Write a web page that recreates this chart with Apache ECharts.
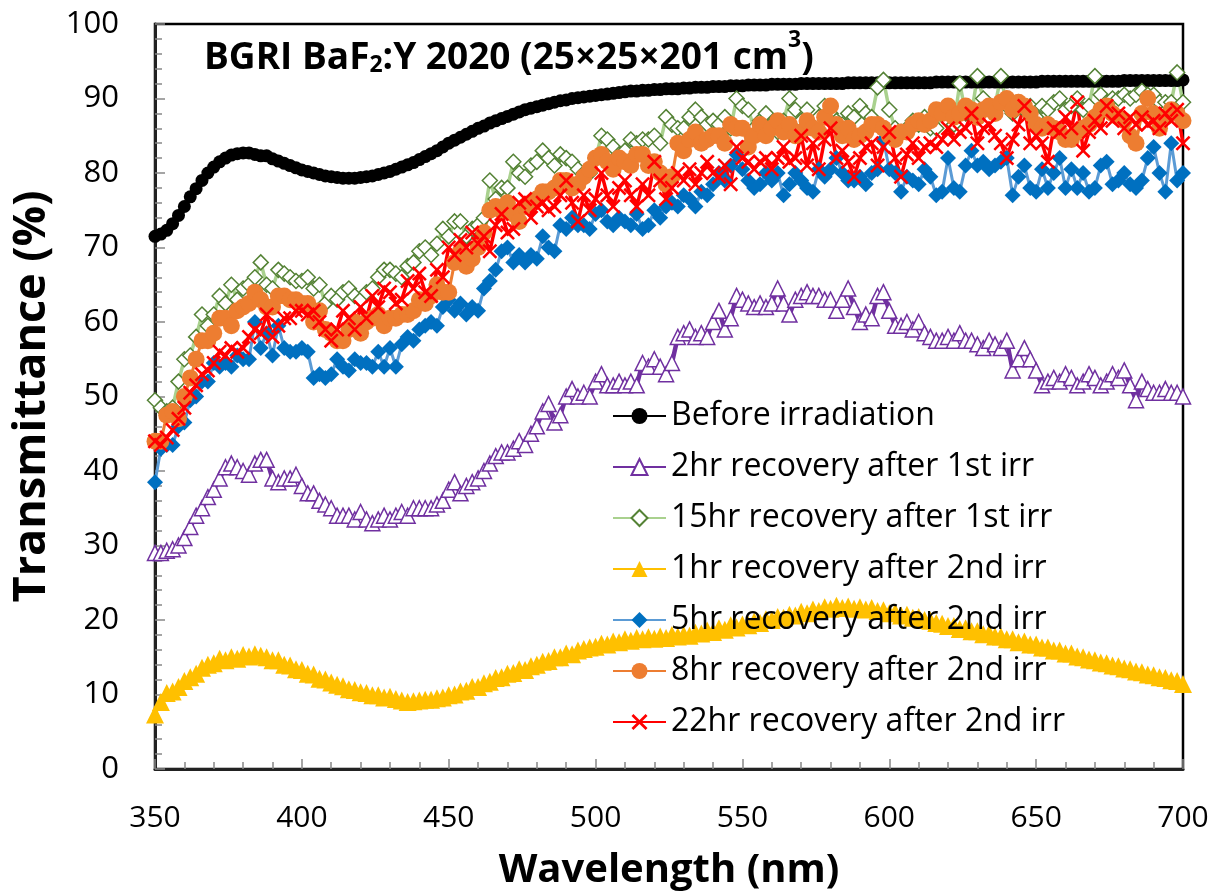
<!DOCTYPE html>
<html>
<head>
<meta charset="utf-8">
<script src="https://cdn.jsdelivr.net/npm/echarts@6/dist/echarts.min.js"></script>
<style>
  html, body { margin: 0; padding: 0; background: #fff; }
  #chart { width: 1229px; height: 896px; }
</style>
</head>
<body>
<div id="chart"></div>
<script>
// Wavelength grid (nm), 2 nm steps
const wavelength = [
  350,352,354,356,358,360,362,364,366,368, 370,372,374,376,378,380,382,384,386,388,
  390,392,394,396,398,400,402,404,406,408, 410,412,414,416,418,420,422,424,426,428,
  430,432,434,436,438,440,442,444,446,448, 450,452,454,456,458,460,462,464,466,468,
  470,472,474,476,478,480,482,484,486,488, 490,492,494,496,498,500,502,504,506,508,
  510,512,514,516,518,520,522,524,526,528, 530,532,534,536,538,540,542,544,546,548,
  550,552,554,556,558,560,562,564,566,568, 570,572,574,576,578,580,582,584,586,588,
  590,592,594,596,598,600,602,604,606,608, 610,612,614,616,618,620,622,624,626,628,
  630,632,634,636,638,640,642,644,646,648, 650,652,654,656,658,660,662,664,666,668,
  670,672,674,676,678,680,682,684,686,688, 690,692,694,696,698,700
];

// Transmittance (%) per measurement
const beforeIrradiation = [
  71.5,71.8,72.3,73.2,74.3,75.5,76.8,77.9,79.0,80.0, 80.8,81.5,82.0,82.4,82.6,82.7,82.7,82.5,82.3,82.3,
  81.9,81.6,81.3,81.0,80.7,80.4,80.2,80.0,79.8,79.6, 79.5,79.4,79.3,79.3,79.3,79.4,79.5,79.6,79.8,80.0,
  80.2,80.5,80.8,81.1,81.4,81.8,82.2,82.6,83.0,83.5, 84.0,84.4,84.8,85.2,85.6,86.0,86.3,86.7,87.0,87.3,
  87.6,87.9,88.2,88.5,88.7,88.9,89.1,89.3,89.5,89.7, 89.8,90.0,90.1,90.2,90.3,90.4,90.5,90.6,90.7,90.8,
  90.9,91.0,91.0,91.1,91.1,91.2,91.2,91.3,91.3,91.3, 91.4,91.4,91.5,91.5,91.5,91.6,91.6,91.6,91.7,91.7,
  91.7,91.8,91.8,91.8,91.8,91.9,91.9,91.9,91.9,91.9, 92.0,92.0,92.0,92.0,92.0,92.0,92.0,92.0,92.1,92.1,
  92.1,92.1,92.1,92.1,92.1,92.1,92.1,92.1,92.1,92.1, 92.1,92.1,92.1,92.2,92.2,92.2,92.2,92.2,92.2,92.2,
  92.2,92.2,92.2,92.2,92.2,92.2,92.2,92.2,92.2,92.2, 92.2,92.3,92.3,92.3,92.3,92.3,92.3,92.3,92.3,92.3,
  92.3,92.3,92.3,92.3,92.3,92.4,92.4,92.4,92.4,92.4, 92.4,92.4,92.4,92.4,92.4,92.5
];
const rec2hAfter1st = [
  29.0,29.0,29.3,29.5,30.0,31.0,32.5,34.0,35.0,36.5, 37.5,39.0,40.5,41.0,40.5,40.0,39.5,41.0,41.5,41.5,
  39.0,38.5,39.0,39.0,39.5,38.0,37.0,37.0,36.0,35.5, 35.0,34.0,34.0,34.0,33.5,34.5,33.5,33.0,33.5,34.0,
  33.5,34.0,34.5,34.0,35.0,35.0,35.0,35.0,35.5,36.0, 37.5,38.5,37.0,38.0,38.5,39.0,40.0,41.0,42.0,42.5,
  42.5,43.0,44.0,43.5,45.0,46.0,48.0,49.0,46.5,47.5, 50.0,51.0,50.0,50.5,50.0,52.0,53.0,51.5,51.5,52.0,
  51.5,52.0,51.5,54.5,54.0,55.0,54.0,53.0,54.5,58.0, 58.5,59.0,58.0,58.5,58.0,60.0,61.5,59.0,60.5,63.5,
  63.0,62.5,62.0,62.5,62.0,62.5,64.5,62.5,61.0,63.0, 63.5,64.0,63.5,63.5,63.0,63.0,61.5,63.0,64.5,62.0,
  60.0,61.0,60.5,63.5,64.0,61.5,59.5,59.5,60.0,59.0, 60.0,58.5,58.0,57.5,57.5,58.0,57.5,58.5,57.5,57.5,
  57.0,56.5,57.5,57.0,56.5,57.5,53.5,55.0,56.5,55.0, 53.5,51.5,52.0,52.5,52.0,53.0,52.5,51.5,52.0,53.0,
  52.5,51.5,52.0,53.0,52.5,53.5,51.5,49.5,52.0,51.0, 50.5,50.5,51.0,50.5,50.5,50.0
];
const rec15hAfter1st = [
  49.5,48.5,48.0,48.5,52.0,55.0,55.5,58.0,61.0,59.5, 61.0,63.5,62.5,65.0,63.0,64.5,65.0,66.0,68.0,65.0,
  64.5,67.0,66.5,66.0,65.5,65.5,66.0,64.5,65.0,62.5, 63.5,63.0,64.0,64.5,63.5,63.0,64.0,64.5,66.0,67.0,
  67.0,66.5,66.0,67.5,68.0,69.5,70.0,69.0,70.5,72.5, 71.5,73.5,73.5,71.5,72.5,73.0,74.0,79.0,76.5,78.0,
  78.0,81.5,80.0,79.5,81.0,81.5,83.0,82.0,81.0,82.5, 82.0,81.5,80.5,80.0,80.0,82.0,85.0,84.5,83.5,82.5,
  83.0,84.5,84.0,84.5,84.5,85.0,84.0,87.5,86.5,86.0, 86.0,87.5,88.5,87.5,86.5,87.0,86.5,87.5,86.0,90.0,
  89.0,88.5,86.0,87.0,88.0,86.5,85.5,87.0,90.0,88.5, 87.0,88.5,86.5,87.5,89.0,88.0,87.0,86.5,88.0,87.5,
  89.0,88.0,87.5,91.5,92.5,88.5,86.0,85.5,86.0,87.0, 86.5,87.5,86.0,86.0,88.0,87.0,86.5,92.0,88.0,88.0,
  93.0,90.0,88.5,89.0,93.0,89.0,88.0,89.5,88.5,89.0, 87.5,89.0,88.5,89.5,90.0,88.5,89.0,90.0,88.5,89.0,
  93.0,90.5,89.5,90.0,90.0,90.5,90.0,90.5,91.0,90.5, 90.5,89.5,89.5,89.5,93.5,89.5
];
const rec1hAfter2nd = [
  7.3,9.0,10.2,10.4,11.0,11.8,12.3,12.8,13.6,14.0, 14.2,14.8,14.6,15.0,14.8,15.3,15.1,15.4,15.2,15.0,
  14.6,14.6,14.0,13.9,13.4,13.3,12.8,12.7,12.1,12.0, 11.6,11.3,11.1,10.7,10.6,10.3,10.2,9.9,9.9,9.6,
  9.7,9.4,9.2,9.0,9.1,9.2,9.3,9.3,9.5,9.6, 9.9,10.0,10.4,10.5,11.0,11.0,11.5,11.7,12.2,12.3,
  12.8,12.9,13.4,13.3,13.8,14.0,14.4,14.5,15.0,15.0, 15.5,15.4,15.9,16.1,16.3,16.4,16.8,16.7,17.1,17.0,
  17.4,17.2,17.6,17.4,17.7,17.5,17.8,17.6,18.0,17.8, 18.0,17.9,18.3,18.2,18.6,18.4,18.9,18.7,19.3,19.0,
  19.4,19.3,19.8,19.6,20.1,20.0,20.4,20.3,20.7,20.6, 21.1,20.9,21.4,21.2,21.7,21.5,21.9,21.6,21.8,21.5,
  21.7,21.4,21.6,21.2,21.3,20.9,21.0,20.6,20.7,20.3, 20.4,20.0,19.9,19.6,19.5,19.2,19.2,18.8,18.9,18.5,
  18.5,18.1,18.2,17.8,17.8,17.4,17.4,17.0,17.1,16.7, 16.7,16.3,16.3,15.9,15.9,15.5,15.5,15.1,15.0,14.7,
  14.6,14.3,14.2,13.9,13.8,13.5,13.4,13.1,13.0,12.7, 12.6,12.3,12.2,11.9,11.8,11.4
];
const rec5hAfter2nd = [
  38.5,43.0,43.5,43.5,46.0,46.5,49.5,50.0,52.0,52.0, 54.5,54.0,54.5,54.0,55.5,55.0,55.0,60.0,56.5,58.5,
  55.5,59.5,56.5,56.0,56.0,56.5,56.0,52.5,53.0,52.5, 53.0,55.0,54.0,53.5,55.0,54.5,54.5,54.0,56.0,54.0,
  56.5,54.0,57.0,58.0,57.5,59.0,59.5,60.0,59.5,62.0, 63.0,61.5,62.5,61.0,62.0,61.5,64.5,65.5,67.0,69.5,
  70.0,68.0,69.0,68.0,69.0,68.5,71.5,70.0,69.5,73.0, 72.5,74.0,73.0,73.0,72.5,74.5,75.0,73.5,73.0,74.0,
  73.5,73.0,74.5,72.5,73.0,75.0,74.0,75.5,76.0,75.5, 77.0,76.5,75.5,77.5,77.0,78.5,80.0,79.0,81.0,82.5,
  80.5,79.0,78.0,78.5,80.0,79.0,80.0,77.0,78.5,80.0, 79.0,78.0,77.5,80.5,79.5,80.5,82.0,80.0,79.0,79.0,
  79.5,78.5,80.0,80.5,84.5,80.5,80.0,77.5,79.5,79.0, 78.5,80.5,79.5,77.0,77.5,82.0,78.0,77.5,81.0,83.0,
  81.0,81.5,80.5,81.0,81.5,82.0,77.0,79.5,81.0,78.0, 77.5,80.5,78.0,80.0,82.0,78.0,80.5,78.0,80.0,77.5,
  78.0,81.0,81.5,78.5,79.0,80.0,78.5,78.0,79.0,82.0, 83.5,80.0,77.5,84.0,79.0,80.0
];
const rec8hAfter2nd = [
  44.0,44.0,47.5,48.0,47.0,50.0,52.5,55.0,57.5,57.5, 58.5,60.5,60.5,59.5,61.5,62.0,62.5,64.0,63.0,62.0,
  62.0,63.5,63.5,63.0,63.0,62.5,62.5,60.0,61.5,59.0, 58.5,57.5,57.5,59.0,60.0,58.5,60.0,60.5,61.0,59.5,
  60.5,60.5,61.0,61.0,61.5,63.0,62.5,63.5,65.0,64.0, 64.0,68.0,69.5,67.5,68.5,70.0,72.0,75.0,75.5,75.0,
  76.0,74.5,73.5,75.5,76.0,76.5,77.5,77.5,78.0,79.0, 79.0,78.0,78.5,79.5,80.5,82.0,82.5,81.5,80.5,82.0,
  81.5,81.0,82.5,82.5,81.0,81.5,80.0,78.5,79.5,84.0, 83.0,84.5,85.5,84.0,84.5,85.0,85.0,84.0,86.5,86.0,
  86.0,83.5,85.0,86.5,85.0,86.0,87.0,85.5,86.5,85.0, 85.5,87.0,86.0,85.5,87.5,89.0,86.5,85.0,86.0,84.5,
  85.0,85.5,86.5,86.5,86.0,85.0,84.5,85.5,85.5,86.5, 87.0,86.5,87.0,88.5,88.0,89.0,87.5,88.0,89.0,88.5,
  87.5,88.5,89.0,88.0,89.5,90.0,88.5,89.5,89.0,88.0, 86.5,86.0,86.5,86.0,85.5,84.5,84.5,85.5,86.0,86.5,
  87.5,88.5,89.0,88.0,87.5,87.0,85.0,84.0,88.0,90.0, 88.0,86.0,87.5,88.5,88.0,87.0
];
const rec22hAfter2nd = [
  44.0,43.5,44.5,45.5,47.0,48.5,50.5,51.5,53.0,53.5, 54.5,56.0,55.5,56.5,56.0,56.5,58.0,59.0,58.5,61.0,
  58.0,59.5,60.5,60.5,61.5,61.5,61.0,61.5,60.0,59.0, 57.5,59.0,61.5,60.5,59.0,62.0,60.5,63.5,62.0,64.5,
  64.0,62.5,63.0,65.5,64.5,66.5,64.0,63.5,67.0,66.0, 70.0,69.0,71.0,70.0,72.0,70.5,71.5,69.5,73.0,74.5,
  72.0,72.5,76.0,76.5,74.0,75.5,76.0,75.0,75.5,77.0, 79.0,76.0,73.5,77.0,75.0,76.5,80.0,77.0,75.5,78.0,
  79.0,77.0,75.5,78.5,77.0,81.5,79.0,76.5,78.0,80.0, 79.0,80.5,78.5,80.0,81.5,80.0,79.5,81.0,78.5,83.5,
  82.0,81.5,80.5,81.5,82.0,80.5,82.0,83.5,81.5,82.0, 85.0,81.0,84.0,80.5,84.5,86.0,82.0,83.0,81.5,79.5,
  82.0,83.5,84.0,81.0,83.5,85.5,82.0,79.5,82.5,84.0, 82.0,83.5,84.0,83.5,84.5,86.0,84.5,85.5,86.0,88.0,
  84.0,86.0,86.5,85.0,84.0,82.0,84.5,86.5,89.0,84.0, 85.0,84.0,81.5,86.0,85.5,87.5,86.0,89.5,83.0,85.5,
  87.0,86.0,89.0,87.0,88.0,86.0,87.5,86.5,87.5,86.5, 87.0,86.0,88.0,87.0,88.5,84.0
];

const seriesNames = [
  'Before irradiation',
  '2hr recovery after 1st irr',
  '15hr recovery after 1st irr',
  '1hr recovery after 2nd irr',
  '5hr recovery after 2nd irr',
  '8hr recovery after 2nd irr',
  '22hr recovery after 2nd irr'
];

const FONT = '"Open Sans", "Noto Sans", sans-serif';
const crossPath = 'path://M0,1.2L1.2,0L5,3.8L8.8,0L10,1.2L6.2,5L10,8.8L8.8,10L5,6.2L1.2,10L0,8.8L3.8,5Z';

function pairs(values) {
  return wavelength.map((w, i) => [w, values[i]]);
}

function lineSeries(name, values, lineColor, lineWidth, symbol, symbolSize, itemStyle) {
  return {
    name: name,
    type: 'line',
    data: pairs(values),
    symbol: symbol,
    symbolSize: symbolSize,
    showSymbol: true,
    lineStyle: { color: lineColor, width: lineWidth },
    itemStyle: itemStyle,
    emphasis: { disabled: true },
    animation: false
  };
}

const chart = echarts.init(document.getElementById('chart'), null, { renderer: 'canvas' });

chart.setOption({
  backgroundColor: '#ffffff',
  animation: false,
  title: {
    text: '{b|BGRI BaF}{s|2}{b|:Y 2020 (25\u00d725\u00d7201 cm}{p|3}{b|)}',
    left: 199,
    top: 24,
    textStyle: {
      rich: {
        b: { fontFamily: FONT, fontWeight: 'bold', fontSize: 37, color: '#000', lineHeight: 48, verticalAlign: 'bottom' },
        s: { fontFamily: FONT, fontWeight: 'bold', fontSize: 23, color: '#000', lineHeight: 22, verticalAlign: 'bottom' },
        p: { fontFamily: FONT, fontWeight: 'bold', fontSize: 23, color: '#000', lineHeight: 39, verticalAlign: 'top' }
      }
    }
  },
  grid: {
    left: 155,
    right: 46,
    top: 24,
    bottom: 126,
    show: true,
    borderColor: '#000',
    borderWidth: 2.5,
    backgroundColor: 'transparent'
  },
  legend: {
    orient: 'vertical',
    left: 607,
    top: 394,
    itemWidth: 53,
    itemHeight: 20,
    itemGap: 17,
    selectedMode: false,
    data: seriesNames,
    textStyle: { fontFamily: FONT, fontSize: 32, color: '#000', lineHeight: 34 }
  },
  xAxis: {
    type: 'value',
    min: 350,
    max: 700,
    interval: 50,
    name: 'Wavelength (nm)',
    nameLocation: 'middle',
    nameGap: 82,
    nameTextStyle: { fontFamily: FONT, fontWeight: 'bold', fontSize: 40, color: '#000' },
    axisLine: { show: true, onZero: false, lineStyle: { color: '#222', width: 3 } },
    axisTick: { show: true, inside: true, length: 10, lineStyle: { color: '#888', width: 1.5 } },
    minorTick: { show: true, splitNumber: 5, length: 7, lineStyle: { color: '#888', width: 1.5 } },
    axisLabel: { margin: 34, fontFamily: FONT, fontSize: 30, color: '#000' },
    splitLine: { show: false }
  },
  yAxis: {
    type: 'value',
    min: 0,
    max: 100,
    interval: 10,
    name: 'Transmittance (%)',
    nameLocation: 'middle',
    nameGap: 89,
    nameTextStyle: { fontFamily: FONT, fontWeight: 'bold', fontSize: 45, color: '#000' },
    axisLine: { show: true, onZero: false, lineStyle: { color: '#222', width: 3 } },
    axisTick: { show: true, inside: true, length: 10, lineStyle: { color: '#888', width: 1.5 } },
    minorTick: { show: true, splitNumber: 5, length: 7, lineStyle: { color: '#888', width: 1.5 } },
    axisLabel: { margin: 36, fontFamily: FONT, fontSize: 31, color: '#000' },
    splitLine: { show: false }
  },
  series: [
    lineSeries(seriesNames[0], beforeIrradiation, '#000000', 3, 'circle', 13,
      { color: '#000000' }),
    lineSeries(seriesNames[1], rec2hAfter1st, '#7030A0', 4.5, 'triangle', 15,
      { color: '#ffffff', borderColor: '#7030A0', borderWidth: 1.5 }),
    lineSeries(seriesNames[2], rec15hAfter1st, '#A9D18E', 3.5, 'diamond', 15,
      { color: '#ffffff', borderColor: '#548235', borderWidth: 1.5 }),
    lineSeries(seriesNames[3], rec1hAfter2nd, '#FFC000', 3, 'triangle', 18,
      { color: '#FFC000' }),
    lineSeries(seriesNames[4], rec5hAfter2nd, '#5B9BD5', 3, 'diamond', 16,
      { color: '#0070C0' }),
    lineSeries(seriesNames[5], rec8hAfter2nd, '#ED7D31', 3, 'circle', 17,
      { color: '#ED7D31' }),
    lineSeries(seriesNames[6], rec22hAfter2nd, '#FF0000', 3.5, crossPath, 15,
      { color: '#FF0000' })
  ]
});
</script>
</body>
</html>
